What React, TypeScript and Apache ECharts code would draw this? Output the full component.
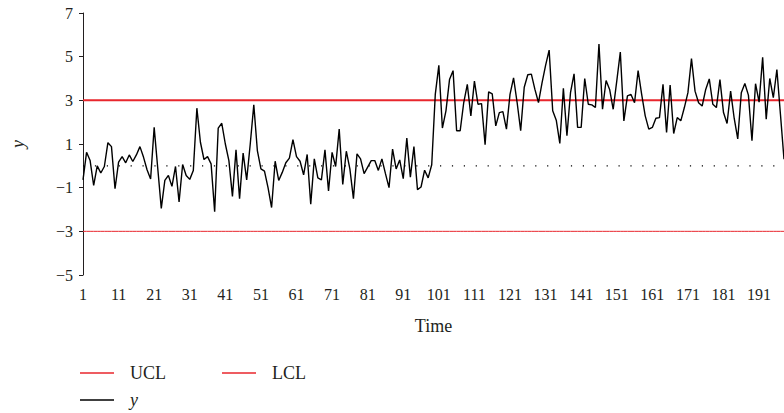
import React, { useEffect, useRef } from "react";
import * as echarts from "echarts";

// Observed process values y (time 1..198)
const yValues: number[] = [
  -0.64, 0.62, 0.24, -0.9, 0.0, -0.33, -0.03, 1.06, 0.88, -1.05,
  0.17, 0.42, 0.14, 0.5, 0.2, 0.5, 0.88, 0.4, -0.18, -0.6,
  1.76, -0.1, -1.95, -0.67, -0.44, -0.94, -0.03, -1.65, 0.06, -0.44,
  -0.62, -0.21, 2.64, 1.08, 0.29, 0.42, 0.09, -2.1, 1.73, 1.95,
  1.0, 0.24, -1.4, 0.73, -1.5, 0.58, -0.64, 1.0, 2.79, 0.7,
  -0.14, -0.24, -1.0, -1.91, 0.21, -0.67, -0.3, 0.14, 0.35, 1.2,
  0.42, 0.21, -0.41, 0.52, -1.76, 0.32, -0.55, -0.64, 0.73, -1.15,
  0.62, -0.03, 1.68, -0.85, 0.67, -0.14, -1.5, 0.55, 0.32, -0.36,
  -0.06, 0.24, 0.24, -0.21, 0.32, -0.36, -1.0, 0.77, -0.14, 0.27,
  -0.59, 1.27, -0.52, 0.88, -1.09, -0.97, -0.2, -0.55, 0.05, 3.27,
  4.6, 1.73, 2.52, 3.95, 4.36, 1.61, 1.61, 2.9, 3.73, 2.29,
  3.88, 2.82, 2.85, 0.97, 3.39, 3.3, 1.83, 2.44, 2.48, 1.68,
  3.27, 4.03, 2.9, 1.61, 3.6, 4.17, 4.2, 3.5, 2.9, 3.8,
  4.6, 5.3, 2.52, 2.09, 1.03, 3.55, 1.38, 3.35, 4.21, 1.76,
  1.76, 4.0, 2.82, 2.79, 2.67, 5.58, 2.59, 3.91, 3.5, 2.59,
  3.88, 5.21, 2.06, 3.2, 3.27, 2.89, 4.36, 3.27, 2.29, 1.68,
  1.76, 2.18, 2.21, 3.73, 1.53, 3.7, 1.48, 2.21, 2.06, 2.67,
  3.35, 4.91, 3.42, 2.89, 2.74, 3.5, 3.98, 2.82, 2.67, 3.95,
  2.44, 1.94, 3.42, 2.18, 1.23, 3.35, 3.77, 3.24, 1.15, 3.76,
  2.92, 4.97, 2.14, 4.0, 3.12, 4.41, 2.36, 0.3,
];

// Control limits
const UCL_VALUE = 3;
const LCL_VALUE = -3;
const CENTER_VALUE = 0;

// Time categories
const timeLabels: string[] = yValues.map((_, i) => String(i + 1));

// y-axis ticks
const Y_MIN = -5;
const Y_MAX = 7;
const Y_STEP = 2;

const RED = "#e8262d";
const INK = "#231f20";
const FONT = "'Liberation Serif', 'Times New Roman', serif";

export default function App() {
  const ref = useRef<HTMLDivElement>(null);

  useEffect(() => {
    if (!ref.current) return;
    const chart = echarts.init(ref.current, undefined, { renderer: "svg" });
    const uclData = timeLabels.map(() => UCL_VALUE);
    const lclData = timeLabels.map(() => LCL_VALUE);
    const clData = timeLabels.map(() => CENTER_VALUE);

    const legendBase = {
      padding: 0,
      icon: "rect",
      itemWidth: 34,
      itemHeight: 1.5,
      selectedMode: false,
      textStyle: {
        fontFamily: FONT,
        fontSize: 18,
        color: INK,
        padding: [0, 0, 0, 11],
      },
    };

    chart.setOption({
      animation: false,
      backgroundColor: "#ffffff",
      textStyle: { fontFamily: FONT },
      grid: { left: 83, right: -1, top: 13, bottom: 138, containLabel: false },
      legend: [
        { ...legendBase, data: ["UCL"], left: 80, top: 364 },
        { ...legendBase, data: ["LCL"], left: 222, top: 364 },
        {
          ...legendBase,
          data: ["y"],
          left: 80,
          top: 391,
          textStyle: { ...legendBase.textStyle, fontStyle: "italic" },
        },
      ],
      xAxis: {
        type: "category",
        data: timeLabels,
        boundaryGap: false,
        axisLine: { show: false },
        axisTick: { show: false },
        splitLine: { show: false },
        axisLabel: {
          interval: 9,
          margin: 11,
          fontFamily: FONT,
          fontSize: 16,
          color: INK,
        },
        name: "Time",
        nameLocation: "middle",
        nameGap: 42,
        nameTextStyle: { fontFamily: FONT, fontSize: 18, color: INK },
      },
      yAxis: {
        type: "value",
        min: Y_MIN,
        max: Y_MAX,
        interval: Y_STEP,
        axisLine: { show: true, lineStyle: { color: INK, width: 1 } },
        axisTick: { show: true, length: 4, lineStyle: { color: INK } },
        splitLine: { show: false },
        axisLabel: {
          margin: 10,
          fontFamily: FONT,
          fontSize: 16,
          color: INK,
          formatter: (v: number) => (v < 0 ? "\u2212" + Math.abs(v) : String(v)),
        },
        name: "y",
        nameLocation: "middle",
        nameRotate: 90,
        nameGap: 56,
        nameTextStyle: {
          fontFamily: FONT,
          fontSize: 18,
          fontStyle: "italic",
          color: INK,
        },
      },
      series: [
        {
          name: "CL",
          type: "line",
          data: clData,
          symbol: "none",
          silent: true,
          lineStyle: { color: "#000", width: 1.2, type: [1.2, 10.7] },
          z: 1,
        },
        {
          name: "UCL",
          type: "line",
          data: uclData,
          symbol: "none",
          silent: true,
          color: RED,
          lineStyle: { color: RED, width: 2 },
          z: 2,
        },
        {
          name: "LCL",
          type: "line",
          data: lclData,
          symbol: "none",
          silent: true,
          color: RED,
          lineStyle: { color: RED, width: 1 },
          z: 2,
        },
        {
          name: "y",
          type: "line",
          data: yValues,
          symbol: "none",
          silent: true,
          color: "#000",
          lineStyle: { color: "#000", width: 1.4 },
          z: 3,
        },
      ],
    });
    return () => chart.dispose();
  }, []);

  return (
    <div
      ref={ref}
      style={{ position: "absolute", left: 0, top: 0, width: 784, height: 413 }}
    />
  );
}
